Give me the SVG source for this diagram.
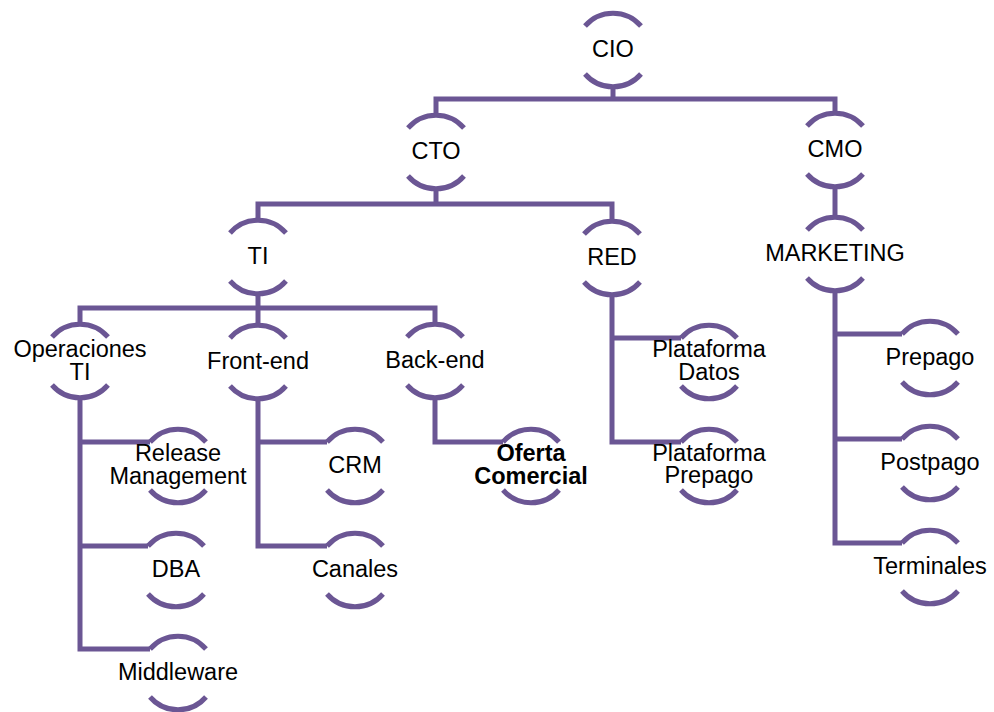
<svg xmlns="http://www.w3.org/2000/svg" xmlns:xlink="http://www.w3.org/1999/xlink" width="994" height="712" viewBox="0 0 994 712">
  <style>
    .ring { fill: none; stroke: #6b5694; stroke-width: 5; }
    .link { fill: none; stroke: #6b5694; stroke-width: 5; stroke-linejoin: miter; stroke-linecap: butt; }
    text { font-family: "Liberation Sans", Arial, sans-serif; font-size: 23.5px; fill: #000; text-anchor: middle; }
    .bold { font-weight: bold; }
  </style>
  <defs>
    <!-- open circle: an upper and a lower arc around each label -->
    <path id="ring" class="ring" d="M-28,-24 A37,37 0 0 1 28,-24 M-28,24 A37,37 0 0 0 28,24"/>
  </defs>
  <rect width="994" height="712" fill="#ffffff"/>

  <!-- connectors -->
  <g id="connectors" class="link">
    <path d="M613,87 V99"/>
    <path d="M436,115 V99 H835 V113"/>
    <path d="M436,189 V204"/>
    <path d="M258,220 V204 H612 V221"/>
    <path d="M835,187 V217"/>
    <path d="M258,294 V325"/>
    <path d="M80,324 V308 H435 V324"/>
    <path d="M80,398 V649 H150"/>
    <path d="M80,442 H150"/>
    <path d="M80,546 H148"/>
    <path d="M258,399 V546 H327"/>
    <path d="M258,442 H327"/>
    <path d="M435,398 V442 H503"/>
    <path d="M612,295 V442 H681"/>
    <path d="M612,338 H681"/>
    <path d="M835,291 V543 H902"/>
    <path d="M835,334 H902"/>
    <path d="M835,439 H902"/>
  </g>

  <!-- nodes -->
  <g id="n-cio" transform="translate(613,50)"><use xlink:href="#ring"/><text y="7">CIO</text></g>
  <g id="n-cto" transform="translate(436,152)"><use xlink:href="#ring"/><text y="7">CTO</text></g>
  <g id="n-cmo" transform="translate(835,150)"><use xlink:href="#ring"/><text y="7">CMO</text></g>
  <g id="n-ti" transform="translate(258,257)"><use xlink:href="#ring"/><text y="7">TI</text></g>
  <g id="n-red" transform="translate(612,258)"><use xlink:href="#ring"/><text y="7">RED</text></g>
  <g id="n-marketing" transform="translate(835,254)"><use xlink:href="#ring"/><text y="7">MARKETING</text></g>

  <g id="n-operaciones" transform="translate(80,361)"><use xlink:href="#ring"/><text y="-4"><tspan x="0">Operaciones</tspan><tspan x="0" dy="23">TI</tspan></text></g>
  <g id="n-frontend" transform="translate(258,362)"><use xlink:href="#ring"/><text y="7">Front-end</text></g>
  <g id="n-backend" transform="translate(435,361)"><use xlink:href="#ring"/><text y="7">Back-end</text></g>

  <g id="n-release" transform="translate(178,466)"><use xlink:href="#ring"/><text y="-5"><tspan x="0">Release</tspan><tspan x="0" dy="23">Management</tspan></text></g>
  <g id="n-dba" transform="translate(176,570)"><use xlink:href="#ring"/><text y="7">DBA</text></g>
  <g id="n-middleware" transform="translate(178,673)"><use xlink:href="#ring"/><text y="7">Middleware</text></g>

  <g id="n-crm" transform="translate(355,466)"><use xlink:href="#ring"/><text y="7">CRM</text></g>
  <g id="n-canales" transform="translate(355,570)"><use xlink:href="#ring"/><text y="7">Canales</text></g>

  <g id="n-oferta" transform="translate(531,466)"><use xlink:href="#ring"/><text class="bold" y="-5"><tspan x="0">Oferta</tspan><tspan x="0" dy="23">Comercial</tspan></text></g>

  <g id="n-plat-datos" transform="translate(709,362)"><use xlink:href="#ring"/><text y="-5"><tspan x="0">Plataforma</tspan><tspan x="0" dy="23">Datos</tspan></text></g>
  <g id="n-plat-prepago" transform="translate(709,466)"><use xlink:href="#ring"/><text y="-5"><tspan x="0">Plataforma</tspan><tspan x="0" dy="22">Prepago</tspan></text></g>

  <g id="n-prepago" transform="translate(930,358)"><use xlink:href="#ring"/><text y="7">Prepago</text></g>
  <g id="n-postpago" transform="translate(930,463)"><use xlink:href="#ring"/><text y="7">Postpago</text></g>
  <g id="n-terminales" transform="translate(930,567)"><use xlink:href="#ring"/><text y="7">Terminales</text></g>
</svg>
